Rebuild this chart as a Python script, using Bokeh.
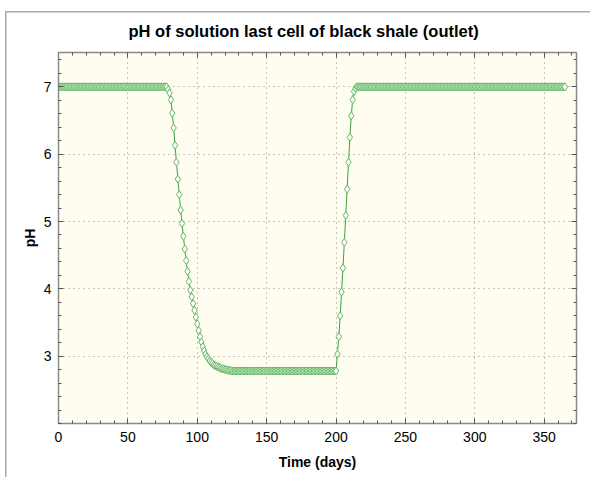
from bokeh.plotting import figure
from bokeh.models import FixedTicker, LinearAxis, Range1d
from bokeh.embed import file_html
from bokeh.resources import INLINE

# ---- data ----
ph_start = 7.0          # days 0..77
n_start = 78
ph_drop = [7.0, 6.96, 6.91, 6.81, 6.61, 6.39, 6.13, 5.88, 5.63, 5.40,
           5.17, 4.97, 4.78, 4.59, 4.42, 4.26, 4.11, 3.98, 3.88, 3.78,
           3.68, 3.58, 3.48, 3.38, 3.29, 3.21, 3.14, 3.08, 3.03, 2.99,
           2.96, 2.93, 2.91, 2.89, 2.87, 2.86, 2.85, 2.84, 2.83, 2.82,
           2.815, 2.81, 2.80, 2.80, 2.79, 2.79, 2.79]          # days 78..124
ph_low = 2.78           # days 125..199
n_low = 75
ph_rise = [2.78, 3.03, 3.29, 3.60, 3.95, 4.31, 4.69, 5.09, 5.48, 5.88,
           6.25, 6.57, 6.81, 6.93, 6.98]                      # days 200..214
ph_end = 7.0            # days 215..365
n_end = 151

ph = [ph_start] * n_start + ph_drop + [ph_low] * n_low + ph_rise + [ph_end] * n_end
days = list(range(len(ph)))

x_ticks = [0, 50, 100, 150, 200, 250, 300, 350]
x_minor = list(range(0, 380, 10))
y_ticks = [3, 4, 5, 6, 7]
y_minor = [round(2.0 + 0.2 * i, 1) for i in range(0, 28)]

FONT = "Liberation Sans"
FRAME = "#8a8a8a"

p = figure(width=590, height=477,
           x_range=Range1d(0, 373.3), y_range=Range1d(2.0, 7.51),
           output_backend="svg", toolbar_location=None,
           min_border_left=58, min_border_right=14,
           min_border_top=52, min_border_bottom=54)

p.background_fill_color = "#fefdf0"
p.border_fill_color = "white"
p.border_fill_alpha = 0
p.outline_line_color = FRAME
p.outline_line_width = 1

# outer panel border (top and left edges), drawn behind the transparent canvas border
p.styles = {
    "background-color": "white",
    "background-image": "linear-gradient(#a9a9a9, #a9a9a9), linear-gradient(#a9a9a9, #a9a9a9)",
    "background-size": "1.5px 100%, 100% 1.5px",
    "background-position": "5px 11px, 5px 11px",
    "background-repeat": "no-repeat",
}

p.title.text = "pH of solution last cell of black shale (outlet)"
p.title.align = "left"
p.title.offset = 70
p.title.standoff = 25
p.title.text_font = FONT
p.title.text_font_size = "16.5px"
p.title.text_font_style = "bold"
p.title.text_color = "black"

def style_axis(ax, ticks, minor, labels=True):
    ax.ticker = FixedTicker(ticks=ticks, minor_ticks=minor)
    ax.axis_line_color = FRAME
    ax.axis_line_width = 1.5
    ax.major_tick_in = 5
    ax.major_tick_out = 0
    ax.minor_tick_in = 3
    ax.minor_tick_out = 0
    ax.major_tick_line_color = "#555555"
    ax.minor_tick_line_color = "#555555"
    ax.major_label_text_font = FONT
    ax.major_label_text_font_size = "14px"
    ax.major_label_text_color = "black"
    ax.axis_label_text_font = FONT
    ax.axis_label_text_font_size = "14px"
    ax.axis_label_text_font_style = "bold"
    ax.axis_label_text_color = "black"
    if not labels:
        ax.major_label_overrides = {t: "" for t in ticks}
        ax.major_label_standoff = 0

style_axis(p.xaxis[0], x_ticks, x_minor)
style_axis(p.yaxis[0], y_ticks, y_minor)
p.xaxis.axis_label = "Time (days)"
p.yaxis.axis_label = "pH"
p.xaxis.major_label_standoff = 8
p.yaxis.major_label_standoff = 7
p.xaxis.axis_label_standoff = 9
p.yaxis.axis_label_standoff = 3

top_ax = LinearAxis()
style_axis(top_ax, x_ticks, x_minor, labels=False)
p.add_layout(top_ax, "above")
right_ax = LinearAxis()
style_axis(right_ax, y_ticks, y_minor, labels=False)
p.add_layout(right_ax, "right")

p.xgrid.ticker = FixedTicker(ticks=x_ticks[1:])
p.ygrid.ticker = FixedTicker(ticks=y_ticks)
for g in (p.xgrid, p.ygrid):
    g.grid_line_color = "#8c8c8c"
    g.grid_line_dash = "1 4"
    g.grid_line_width = 1

p.line(days, ph, line_color="#3f9f3f", line_width=1)
p.scatter(days, ph, marker="diamond", size=8, line_color="#62b862",
          line_width=1, fill_color="white")

open("out.html", "w").write(file_html(p, INLINE))
